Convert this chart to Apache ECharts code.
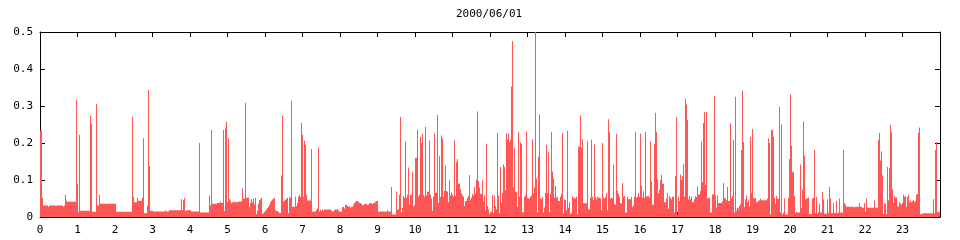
<!DOCTYPE html>
<html>
<head>
<meta charset="utf-8">
<script src="https://cdn.jsdelivr.net/npm/echarts@6/dist/echarts.min.js"></script>
<style>
html,body{margin:0;padding:0;background:#fff;}
#chart{width:960px;height:240px;}
</style>
</head>
<body>
<div id="chart"></div>
<script>
// ---- data (values read per 1.6-minute sample from the reference) ----
const chartTitle = '2000/06/01';
const sampleMinutes = 1.6;
const yMin = 0, yMax = 0.5, yStep = 0.1;
const hourMin = 0, hourMax = 24, hourStep = 1;

// 00:00 - 06:00
const load00 = [
.233,.233,.052,.031,.031,.031,.031,.031,.028,.031,
.031,.031,.031,.031,.031,.031,.031,.031,.031,.031,
.031,.031,.031,.028,.031,.060,.044,.041,.041,.041,
.041,.041,.041,.041,.041,.041,.317,.090,.014,.222,
.017,.017,.017,.017,.017,.017,.017,.017,.017,.017,
.274,.252,.014,.014,.014,.014,.306,.031,.031,.060,
.036,.036,.036,.036,.036,.036,.036,.036,.036,.036,
.036,.036,.036,.036,.036,.036,.014,.014,.014,.014,
.014,.014,.014,.014,.014,.014,.014,.014,.014,.014,
.014,.014,.271,.055,.040,.040,.040,.052,.044,.044,
.044,.044,.052,.213,.010,.010,.010,.031,.344,.138,
.017,.017,.017,.015,.015,.015,.015,.015,.015,.015,
.015,.015,.015,.015,.015,.018,.015,.015,.015,.018,
.018,.018,.018,.018,.018,.018,.018,.018,.018,.018,
.018,.048,.018,.046,.052,.015,.018,.018,.018,.018,
.018,.015,.015,.015,.015,.015,.015,.015,.015,.200,
.012,.012,.012,.012,.012,.012,.012,.012,.012,.058,
.031,.236,.036,.036,.036,.036,.036,.038,.038,.038,
.042,.038,.038,.235,.016,.239,.258,.040,.213,.048,
.044,.038,.040,.040,.042,.040,.040,.040,.042,.042,
.042,.042,.078,.050,.050,.309,.052,.052,.052,.027,
.038,.048,.040,.050,.034,.052,.008,.017,.036,.045,
.048,.052,.008,.011,.014
];

// 06:00 - 12:00
const load06 = [
.017,.020,.024,.028,.033,
.040,.044,.047,.049,.052,.018,.016,.016,.013,.011,
.011,.112,.274,.042,.044,.046,.049,.052,.011,.054,
.052,.315,.028,.028,.028,.055,.030,.038,.055,.060,
.055,.255,.222,.055,.206,.196,.060,.045,.044,.046,
.044,.184,.015,.015,.015,.015,.019,.022,.188,.015,
.020,.015,.020,.017,.020,.020,.020,.020,.020,.020,
.020,.017,.015,.015,.018,.020,.020,.020,.018,.015,
.013,.015,.027,.027,.023,.033,.033,.030,.028,.030,
.025,.028,.028,.033,.038,.041,.043,.043,.041,.038,
.038,.035,.032,.032,.035,.035,.035,.032,.034,.038,
.037,.037,.035,.038,.038,.041,.043,.043,.015,.015,
.015,.015,.015,.015,.015,.015,.015,.018,.015,.015,
.015,.081,.007,.007,.007,.007,.069,.020,.020,.060,
.270,.012,.024,.057,.052,.204,.052,.060,.134,.033,
.060,.060,.122,.028,.032,.160,.160,.236,.055,.060,
.217,.199,.225,.060,.055,.244,.058,.068,.068,.207,
.060,.050,.017,.055,.226,.065,.066,.276,.038,.165,
.054,.220,.212,.054,.070,.139,.070,.068,.040,.100,
.058,.066,.060,.055,.209,.057,.148,.157,.089,.091,
.075,.064,.059,.055,.030,.043,.043,.052,.057,.113,
.045,.052,.063,.058,.081,.063,.101,.285,.097,.079,
.063,.062,.099,.042,.059,.018,.198,.030,.020,.008
];

// 12:00 - 18:00
const load12 = [
.014,.014,.060,.010,.058,.030,.020,.227,.058,.010,
.135,.038,.065,.142,.135,.072,.226,.210,.225,.202,
.208,.353,.475,.080,.186,.068,.068,.027,.230,.055,
.202,.197,.013,.013,.055,.058,.231,.052,.050,.050,
.055,.058,.210,.065,.080,.500,.104,.012,.163,.277,
.050,.048,.054,.012,.026,.065,.195,.065,.176,.012,
.062,.230,.123,.104,.052,.084,.052,.055,.043,.043,
.055,.063,.227,.010,.047,.045,.018,.233,.025,.040,
.008,.012,.056,.051,.053,.050,.055,.007,.190,.190,
.275,.187,.210,.037,.037,.037,.037,.205,.021,.021,
.052,.209,.055,.045,.196,.055,.047,.055,.052,.052,
.050,.018,.200,.053,.050,.054,.065,.018,.264,.229,
.050,.052,.051,.141,.035,.033,.225,.071,.063,.055,
.038,.036,.092,.055,.057,.012,.012,.055,.048,.048,
.048,.055,.027,.032,.055,.230,.052,.055,.065,.055,
.225,.085,.052,.069,.052,.230,.055,.057,.057,.052,
.204,.096,.033,.033,.198,.282,.230,.103,.064,.074,
.100,.114,.090,.090,.040,.040,.050,.065,.022,.057,
.052,.048,.055,.055,.012,.110,.270,.007,.055,.043,
.115,.100,.110,.143,.055,.320,.304,.262,.047,.057,
.048,.055,.040,.040,.048,.056,.054,.082,.061,.061,
.071,.204,.094,.254,.283,.087,.284,.050,.052,.052,
.012,.012,.060,.062,.328
];

// 18:00 - 24:00
const load18 = [
.058,.025,.058,.038,.038,
.038,.038,.043,.092,.052,.050,.045,.082,.043,.043,
.253,.050,.057,.208,.012,.325,.017,.025,.023,.030,
.035,.181,.342,.203,.027,.048,.058,.040,.045,.028,
.217,.066,.238,.052,.050,.052,.040,.040,.043,.045,
.050,.045,.045,.045,.045,.045,.045,.050,.212,.200,
.007,.235,.235,.217,.052,.035,.057,.050,.050,.298,
.012,.250,.007,.012,.050,.007,.007,.007,.052,.157,
.332,.193,.121,.123,.057,.010,.014,.012,.012,.012,
.142,.025,.074,.258,.165,.047,.050,.050,.053,.008,
.008,.008,.050,.052,.182,.010,.055,.008,.013,.035,
.012,.012,.068,.047,.009,.009,.009,.048,.012,.081,
.050,.010,.010,.038,.011,.011,.043,.010,.012,.050,
.012,.012,.012,.182,.038,.033,.028,.028,.028,.028,
.028,.028,.028,.028,.026,.028,.028,.028,.028,.038,
.028,.028,.025,.025,.038,.015,.050,.025,.025,.025,
.025,.025,.025,.025,.045,.025,.025,.025,.208,.227,
.153,.178,.112,.008,.035,.038,.008,.135,.045,.132,
.249,.229,.075,.038,.057,.053,.053,.030,.028,.040,
.036,.033,.038,.060,.055,.057,.028,.055,.060,.040,
.045,.040,.043,.045,.040,.043,.060,.062,.228,.242,
.008,.007,.010,.010,.010,.010,.010,.010,.010,.010,
.010,.010,.010,.048,.010,.182,.203,.013,.015,.012
];

// ---- build series data: each sample is a 1.6-minute bin centred in its interval ----
const segments = [[0, load00], [6, load06], [12, load12], [18, load18]];
const seriesData = [];
segments.forEach(function (seg) {
  const h0 = seg[0], arr = seg[1];
  arr.forEach(function (v, i) {
    seriesData.push([h0 + (i + 0.5) * sampleMinutes / 60, v]);
  });
});

const FONT = 'DejaVu Sans Mono';
const black = '#000';

function xAxisDef(pos, showLabels) {
  return {
    type: 'value', position: pos, min: hourMin, max: hourMax, interval: hourStep,
    axisLine: { show: true, onZero: false, lineStyle: { color: black, width: 1 } },
    axisTick: { show: true, inside: true, length: 5, lineStyle: { color: black, width: 1 } },
    axisLabel: { show: showLabels, showMaxLabel: false, margin: 8, fontFamily: FONT, fontSize: 11, color: black },
    splitLine: { show: false }
  };
}
function yAxisDef(pos, showLabels) {
  return {
    type: 'value', position: pos, min: yMin, max: yMax, interval: yStep,
    axisLine: { show: true, onZero: false, lineStyle: { color: black, width: 1 } },
    axisTick: { show: true, inside: true, length: 5, lineStyle: { color: black, width: 1 } },
    axisLabel: { show: showLabels, margin: 7, fontFamily: FONT, fontSize: 11, color: black },
    splitLine: { show: false }
  };
}

const chart = echarts.init(document.getElementById('chart'), null, { renderer: 'canvas' });
chart.setOption({
  animation: false,
  backgroundColor: '#fff',
  title: {
    text: chartTitle, left: 456, top: 9, padding: 0,
    textStyle: { fontFamily: FONT, fontSize: 11, fontWeight: 'normal', color: black }
  },
  grid: { left: 40, right: 20, top: 32, bottom: 23 },
  xAxis: [xAxisDef('bottom', true), xAxisDef('top', false)],
  yAxis: [yAxisDef('left', true), yAxisDef('right', false)],
  series: [{
    type: 'bar', xAxisIndex: 0, yAxisIndex: 0,
    data: seriesData, barWidth: 1, barGap: '0%', silent: true,
    itemStyle: { color: '#ff5555', borderWidth: 0 }
  }]
});
</script>
</body>
</html>
